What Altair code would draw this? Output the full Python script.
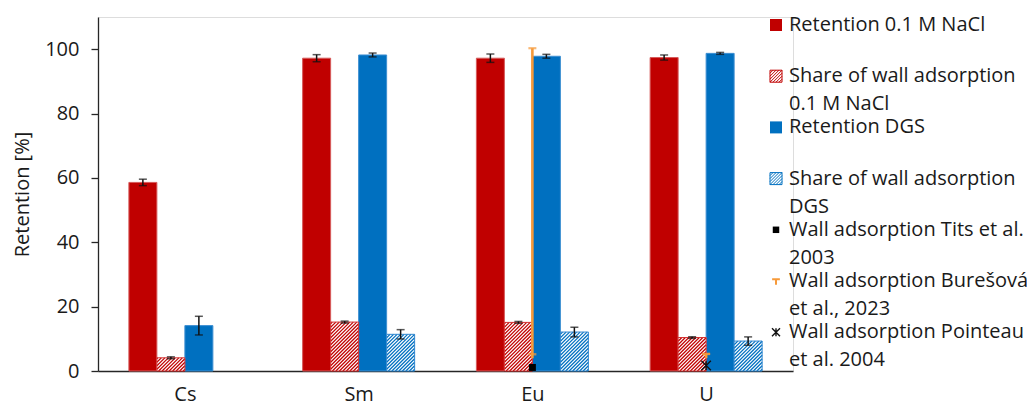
import altair as alt
import pandas as pd

# ---------------- data ----------------
categories = ["Cs", "Sm", "Eu", "U"]

ret_nacl = [58.6, 97.2, 97.2, 97.4]
ret_nacl_err = [1.0, 1.1, 1.3, 0.8]
wall_nacl = [4.1, 15.2, 15.1, 10.4]
wall_nacl_err = [0.3, 0.3, 0.3, 0.25]
ret_dgs = [14.1, 98.2, 97.8, 98.7]
ret_dgs_err = [2.9, 0.6, 0.6, 0.3]
wall_dgs = [None, 11.4, 12.1, 9.3]
wall_dgs_err = [None, 1.45, 1.5, 1.3]

tits_cat = ["Eu"]
tits_val = [1.1]
bur_cat = ["Eu", "U"]
bur_val = [5.2, 5.3]
bur_low = [4.0, 4.0]
bur_high = [100.3, 5.3]
poi_cat = ["U"]
poi_val = [1.7]

legend_labels = [
    ["Retention 0.1 M NaCl"],
    ["Share of wall adsorption", "0.1 M NaCl"],
    ["Retention DGS"],
    ["Share of wall adsorption", "DGS"],
    ["Wall adsorption Tits et al.", "2003"],
    ["Wall adsorption Burešová", "et al., 2023"],
    ["Wall adsorption Pointeau", "et al. 2004"],
]

# ---------------- layout / style ----------------
W, H = 695, 354
YMAX = 110
RED, BLUE, ORANGE = "#C00000", "#0070C0", "#F79A3A"
FONT = "Open Sans"
KX = W / len(categories)          # px per category unit
KY = H / YMAX                     # px per % unit
BW = 28 / KX                      # bar width in category units
HATCH_P = 3.5                     # hatch period (px, horizontal)

series = [
    ("Retention 0.1 M NaCl", ret_nacl, ret_nacl_err, False),
    ("Share of wall adsorption 0.1 M NaCl", wall_nacl, wall_nacl_err, True),
    ("Retention DGS", ret_dgs, ret_dgs_err, False),
    ("Share of wall adsorption DGS", wall_dgs, wall_dgs_err, True),
]
series_names = [s[0] for s in series]
series_main = [RED, RED, BLUE, BLUE]
series_edge = ["#D65A5A", "#D43333", "#3D8FD2", "#2F86CF"]

bar_rows, cap_rows, hatch_rows = [], [], []
for s, (name, vals, errs, hatched) in enumerate(series):
    for i, (v, e) in enumerate(zip(vals, errs)):
        if v is None:
            continue
        x0 = i + (s - 2) * BW
        x1 = x0 + BW
        xc = (x0 + x1) / 2
        bar_rows.append(dict(series=name, x0=x0, x1=x1, xc=xc, v=v, zero=0.0,
                             lo=v - e, hi=v + e, hatched=hatched))
        cap_rows.append(dict(xc=xc, y=v - e))
        cap_rows.append(dict(xc=xc, y=v + e))
        if hatched:
            wpx, hpx = BW * KX, v * KY
            d = -wpx + HATCH_P / 2
            while d < hpx:
                xa, xb = max(0.0, -d), min(wpx, hpx - d)
                if xb > xa:
                    hatch_rows.append(dict(series=name,
                                           hx0=x0 + xa / KX, hx1=x0 + xb / KX,
                                           hy0=(xa + d) / KY, hy1=(xb + d) / KY))
                d += HATCH_P

bars = pd.DataFrame(bar_rows)
caps = pd.DataFrame(cap_rows)
hatch = pd.DataFrame(hatch_rows)

tits = pd.DataFrame(dict(xi=[categories.index(c) for c in tits_cat], v=tits_val))
bur = pd.DataFrame(dict(xi=[categories.index(c) for c in bur_cat], v=bur_val,
                        lo=bur_low, hi=bur_high))
poi = pd.DataFrame(dict(xi=[categories.index(c) for c in poi_cat], v=poi_val))

xscale = alt.Scale(domain=[-0.5, len(categories) - 0.5], nice=False, zero=False)
label_expr = "[" + ",".join("'%s'" % c for c in categories) + "][datum.value]"
xaxis = alt.Axis(values=list(range(len(categories))), labelExpr=label_expr, title=None,
                 ticks=False, grid=False, labelFontSize=20, labelPadding=13,
                 labelColor="#1a1a1a", domainColor="#262626", domainWidth=1.3,
                 labelFont=FONT)
yscale = alt.Scale(domain=[0, YMAX], nice=False)
yaxis = alt.Axis(values=[0, 20, 40, 60, 80, 100], title="Retention [%]", grid=False,
                 tickSize=7, tickColor="#262626", tickWidth=1.3, labelPadding=12,
                 labelFontSize=20, labelColor="#1a1a1a", titleFontSize=20,
                 titleFontWeight="normal", titleColor="#1a1a1a", titlePadding=12,
                 domainColor="#262626", domainWidth=1.3, labelFont=FONT, titleFont=FONT)


def X(f):
    return alt.X(f, type="quantitative", scale=xscale, axis=xaxis)


def Y(f):
    return alt.Y(f, type="quantitative", scale=yscale, axis=yaxis)


fill_scale = alt.Scale(domain=series_names, range=series_main)
edge_scale = alt.Scale(domain=series_names, range=series_edge)

solid = alt.Chart(bars).transform_filter("!datum.hatched").mark_rect(strokeWidth=1).encode(
    x=X("x0"), x2="x1", y=Y("v"), y2="zero",
    fill=alt.Fill("series:N", scale=fill_scale, legend=None),
    stroke=alt.Stroke("series:N", scale=edge_scale, legend=None))

hatch_bg = alt.Chart(bars).transform_filter("datum.hatched").mark_rect(fill="white").encode(
    x=X("x0"), x2="x1", y=Y("v"), y2="zero")

hatch_lines = alt.Chart(hatch).mark_rule(strokeWidth=1.2).encode(
    x=X("hx0"), x2="hx1", y=Y("hy0"), y2="hy1",
    color=alt.Color("series:N", scale=fill_scale, legend=None))

hatch_edge = alt.Chart(bars).transform_filter("datum.hatched").mark_rect(
    fillOpacity=0, strokeWidth=1).encode(
    x=X("x0"), x2="x1", y=Y("v"), y2="zero",
    stroke=alt.Stroke("series:N", scale=edge_scale, legend=None))

err_line = alt.Chart(bars).mark_rule(color="#111", strokeWidth=1.5).encode(
    x=X("xc"), y=Y("lo"), y2="hi")
err_caps = alt.Chart(caps).mark_tick(orient="horizontal", size=8, thickness=1.5,
                                      color="#111").encode(x=X("xc"), y=Y("y"))

bur_line = alt.Chart(bur).mark_rule(color=ORANGE, strokeWidth=2.6).encode(
    x=X("xi"), y=Y("lo"), y2="hi")
bur_cap = alt.Chart(bur).mark_tick(orient="horizontal", size=8, thickness=2.2,
                                   color=ORANGE).encode(x=X("xi"), y=Y("hi"))
bur_mark = alt.Chart(bur).mark_tick(orient="horizontal", size=8, thickness=2.4,
                                    color=ORANGE).encode(x=X("xi"), y=Y("v"))

tits_mark = alt.Chart(tits).mark_square(size=49, color="black", opacity=1).encode(
    x=X("xi"), y=Y("v"))

STAR = "M-1,-1L1,1M-1,1L1,-1M0,-1L0,1"
poi_mark = alt.Chart(poi).mark_point(shape=STAR, size=90, filled=False, color="#111",
                                     strokeWidth=1.4, opacity=1).encode(
    x=X("xi"), y=Y("v"))

data_layer = alt.layer(solid, hatch_bg, hatch_lines, hatch_edge, err_line, err_caps,
                       bur_line, bur_cap, bur_mark, tits_mark, poi_mark)

# ---------------- legend (own rows scale) ----------------
ROW_PX = 51.2
FIRST_PX = 8
LINE2 = 28 / ROW_PX
leg_scale = alt.Scale(domain=[-FIRST_PX / ROW_PX, (H - FIRST_PX) / ROW_PX], reverse=True,
                      nice=False, zero=False)
leg_text = pd.DataFrame([dict(row=r, pos=r + k * LINE2, text=t)
                         for r, lines in enumerate(legend_labels)
                         for k, t in enumerate(lines)])
leg_sym = pd.DataFrame(dict(row=list(range(len(legend_labels))),
                            label=[l[0] for l in legend_labels]))
SYM_X = 678
TXT_X = 691
LY = alt.Y("row:Q", scale=leg_scale, axis=None)

HATCH_SQ = ("M-1,-1L1,-1L1,1L-1,1Z"
            "M-1,-0.5L-0.5,-1M-1,0L0,-1M-1,0.5L0.5,-1M-1,1L1,-1"
            "M-0.5,1L1,-0.5M0,1L1,0M0.5,1L1,0.5")
TEE = "M-1,-0.45L1,-0.45M0,-0.45L0,1"


def sym(r):
    return alt.Chart(leg_sym).transform_filter(alt.datum.row == r)


leg_layers = [
    sym(0).mark_square(size=144, color=RED, opacity=1).encode(x=alt.value(SYM_X), y=LY),
    sym(1).mark_point(shape=HATCH_SQ, size=144, filled=True, fill="white", stroke=RED,
                      strokeWidth=1, opacity=1).encode(x=alt.value(SYM_X), y=LY),
    sym(2).mark_square(size=144, color=BLUE, opacity=1).encode(x=alt.value(SYM_X), y=LY),
    sym(3).mark_point(shape=HATCH_SQ, size=144, filled=True, fill="white", stroke=BLUE,
                      strokeWidth=1, opacity=1).encode(x=alt.value(SYM_X), y=LY),
    sym(4).mark_square(size=42, color="black", opacity=1).encode(x=alt.value(SYM_X), y=LY),
    sym(5).mark_point(shape=TEE, size=60, filled=False, color=ORANGE, strokeWidth=2,
                      opacity=1).encode(x=alt.value(SYM_X), y=LY),
    sym(6).mark_point(shape=STAR, size=64, filled=False, color="#111", strokeWidth=1.4,
                      opacity=1).encode(x=alt.value(SYM_X), y=LY),
    alt.Chart(leg_text).mark_text(align="left", baseline="middle", fontSize=20, font=FONT,
                                  color="#1a1a1a").encode(
        x=alt.value(TXT_X), y=alt.Y("pos:Q", scale=leg_scale, axis=None), text="text:N"),
]
legend_layer = alt.layer(*leg_layers)

chart = alt.layer(data_layer, legend_layer).resolve_scale(y="independent").properties(
    width=W, height=H,
    autosize=alt.AutoSizeParams(type="none"),
    padding={"left": 90, "top": 9, "right": 234, "bottom": 30},
).configure_view(stroke=None).configure(font=FONT)

chart.save("out.html", embed_options={"renderer": "svg", "actions": False})
